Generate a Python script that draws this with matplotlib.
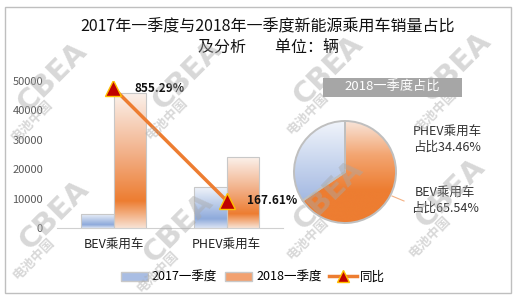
import matplotlib

matplotlib.use("Agg")
import matplotlib.pyplot as plt
import numpy as np
from matplotlib.colors import LinearSegmentedColormap
from matplotlib.patches import Rectangle, Patch
from matplotlib.lines import Line2D

plt.rcParams["font.family"] = ["Noto Sans CJK SC", "DejaVu Sans"]

# ---- 数据 ----
categories = ["BEV乘用车", "PHEV乘用车"]
sales_2017 = [4790, 14000]
sales_2018 = [45720, 24040]
yoy = [855.29, 167.61]
yoy_labels = ["855.29%", "167.61%"]
pie_labels = ["PHEV乘用车\n占比34.46%", "BEV乘用车\n占比65.54%"]
pie_share = [34.46, 65.54]
y_ticks = [0, 10000, 20000, 30000, 40000, 50000]

W, H = 515, 300

blue_cm = LinearSegmentedColormap.from_list(
    "b", [(0, "#f3f6fb"), (0.78, "#8eaadb"), (1.0, "#dbe3f3")])
orange_cm = LinearSegmentedColormap.from_list(
    "o", [(0, "#fbf1eb"), (0.45, "#f2b088"), (0.8, "#ed7d31"), (1.0, "#f8e2d4")])
pie_blue = LinearSegmentedColormap.from_list("pb", ["#f2f5fb", "#8aa6da"])
pie_orange = LinearSegmentedColormap.from_list("po", ["#f8e6dc", "#f3a571", "#ed7d31", "#ed7d31"])

# 水印位置(像素, 左上为原点)
wm_pos = [(52, 77), (187, 75), (328, 70), (456, 67),
          (54, 215), (178, 228), (328, 195), (450, 193)]


def px(x0, y0, w, h):
    # 像素坐标(左上为原点) -> figure 坐标
    return [x0 / W, 1 - (y0 + h) / H, w / W, h / H]


def grad_fill(ax, patch, cmap, extent):
    grad = np.linspace(0, 1, 256).reshape(-1, 1)
    im = ax.imshow(grad, cmap=cmap, extent=extent, aspect="auto",
                   origin="upper", zorder=patch.get_zorder() - 0.1)
    im.set_clip_path(patch)


fig = plt.figure(figsize=(W / 100, H / 100), dpi=100)
fig.patch.set_facecolor("white")
fig.add_artist(Rectangle((5 / W, 1 - 293 / H), 506 / W, 286 / H,
                         transform=fig.transFigure, fill=False,
                         edgecolor="#bfbfbf", linewidth=1))

fig.text(268 / W, 1 - 27 / H, "2017年一季度与2018年一季度新能源乘用车销量占比",
         ha="center", va="center", fontsize=11.5, color="#111111")
fig.text(268 / W, 1 - 47 / H, "及分析        单位：辆",
         ha="center", va="center", fontsize=11.5, color="#111111")

# ---- 柱状图 ----
ax = fig.add_axes(px(57, 80.7, 226, 147.3))
x = np.arange(len(categories))
bw = 0.29
bars17 = ax.bar(x - bw / 2, sales_2017, bw, facecolor="none",
                edgecolor="#c8c8c8", linewidth=0.8, zorder=3)
bars18 = ax.bar(x + bw / 2, sales_2018, bw, facecolor="none",
                edgecolor="#c8c8c8", linewidth=0.8, zorder=3)
for bars, cm in ((bars17, blue_cm), (bars18, orange_cm)):
    for r in bars:
        x0, w, h = r.get_x(), r.get_width(), r.get_height()
        grad_fill(ax, r, cm, [x0, x0 + w, 0, h])

ax.set_xlim(-0.5, 1.5)
ax.set_ylim(0, 50000)
ax.set_yticks(y_ticks)
ax.set_xticks(x)
ax.set_xticklabels(categories, fontsize=9, color="#222222")
ax.tick_params(axis="y", labelsize=8, colors="#595959", length=0, pad=10)
ax.tick_params(axis="x", length=0, pad=7)
for s in ("top", "right", "left"):
    ax.spines[s].set_visible(False)
ax.spines["bottom"].set_color("#d0d0d0")
ax.patch.set_alpha(0)

ax2 = ax.twinx()
ax2.set_ylim(0, 900)
ax2.axis("off")
ax2.plot(x, yoy, color="#ed7d31", linewidth=2.5, zorder=4)
ax2.plot(x, yoy, linestyle="none", marker="^", markersize=11,
         markerfacecolor="#c00000", markeredgecolor="#ffc000",
         markeredgewidth=1, zorder=5)
for xi, yi, lab in zip(x, yoy, yoy_labels):
    ax2.annotate(lab, (xi, yi), xytext=(15, 0), textcoords="offset points",
                 ha="left", va="center", fontsize=8.5, fontweight="bold",
                 color="#111111")

# ---- 饼图 ----
axp = fig.add_axes(px(290, 117, 110, 110))
axp.set_xlim(-1.1, 1.1)
axp.set_ylim(-1.1, 1.1)
axp.set_aspect("equal")
axp.axis("off")
wedges, _ = axp.pie(pie_share, startangle=90, counterclock=True, radius=1.02,
                    colors=["none", "none"],
                    wedgeprops=dict(edgecolor="#bfbfbf", linewidth=1.4))
for wdg, cm in zip(wedges, (pie_blue, pie_orange)):
    wdg.set_zorder(3)
    grad_fill(axp, wdg, cm, [-1.05, 1.05, -1.05, 1.05])
axp.set_xlim(-1.1, 1.1)
axp.set_ylim(-1.1, 1.1)

fig.add_artist(Rectangle((323 / W, 1 - 97 / H), 139 / W, 19 / H,
                         transform=fig.transFigure, facecolor="#a6a6a6",
                         edgecolor="none"))
fig.text(392 / W, 1 - 87.5 / H, "2018一季度占比", ha="center", va="center",
         fontsize=9.5, color="white")

fig.text(447 / W, 1 - 139 / H, pie_labels[0], ha="center", va="center",
         fontsize=9, color="#333333", linespacing=1.3)
fig.text(445 / W, 1 - 200 / H, pie_labels[1], ha="center", va="center",
         fontsize=9, color="#333333", linespacing=1.3)
fig.add_artist(Line2D([392 / W, 404 / W], [1 - 196 / H, 1 - 201 / H],
                      transform=fig.transFigure, color="#f4b183", linewidth=0.8))

# ---- 图例 ----
handles = [
    Patch(facecolor="#a9bde3", edgecolor="#c8c8c8"),
    Patch(facecolor="#f2a170", edgecolor="#c8c8c8"),
    Line2D([], [], color="#ed7d31", linewidth=2.5, marker="^", markersize=8,
           markerfacecolor="#c00000", markeredgecolor="#ffc000"),
]
fig.legend(handles, ["2017一季度", "2018一季度", "同比"], loc="center",
           bbox_to_anchor=(253 / W, 1 - 277 / H), ncol=3, frameon=False,
           fontsize=9, handlelength=2.2, handletextpad=0.3, columnspacing=0.6)

# ---- 水印 ----
for cx, cy in wm_pos:
    fig.text(cx / W, 1 - cy / H, "CBEA", rotation=45, ha="center", va="center",
             fontsize=21, fontweight="heavy", family="DejaVu Sans",
             color="#a8a8a8", alpha=0.45, zorder=10)
    fig.text((cx - 20) / W, 1 - (cy + 44) / H, "电池中国", rotation=45,
             ha="center", va="center", fontsize=9.5, fontweight="bold",
             color="#a8a8a8", alpha=0.45, zorder=10)

fig.savefig("out.png", dpi=100)
